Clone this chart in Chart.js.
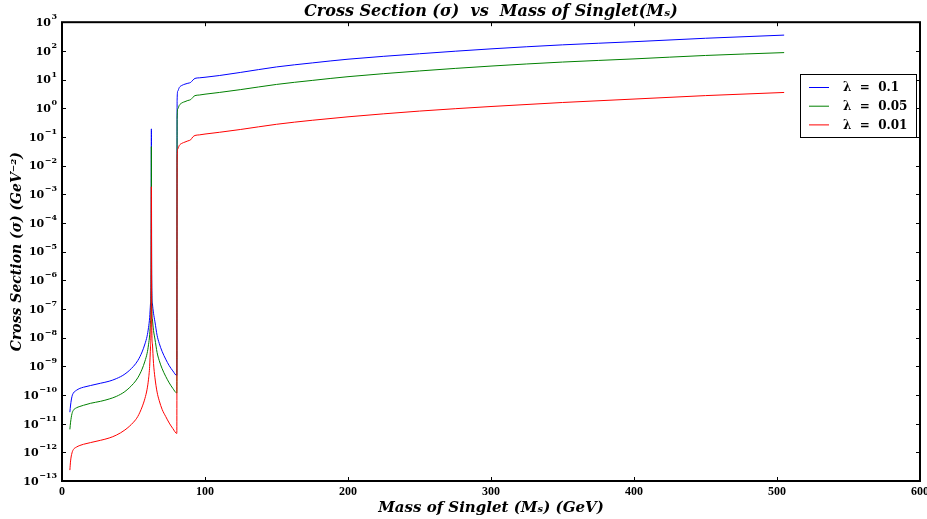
<!DOCTYPE html>
<html>
<head>
<meta charset="utf-8">
<script src="https://cdn.jsdelivr.net/npm/chart.js@4.4.1/dist/chart.umd.min.js"></script>
<style>
  html, body { margin: 0; padding: 0; background: #fff; }
</style>
</head>
<body>
<canvas id="chart" width="927" height="519"></canvas>
<script>
// singlet mass (GeV), shared by the three curves
const masses = [5.5, 6, 7, 8, 10, 12.5, 15, 20, 27, 33, 38, 44, 50, 53, 56, 58, 59.5, 60.5, 61.3, 61.9,
  62.3, 62.5, 62.7, 63.2, 64, 65, 66.5, 68, 70, 72.5, 75, 77.5, 80.3, 80.5, 81, 82, 84, 86, 88, 90,
  91.5, 93, 96, 100, 110, 125, 150, 175, 200, 250, 300, 350, 400, 450, 505];

// log10 of cross section (GeV^-2)
const logSigma01 = [-10.6, -10.35, -10.05, -9.93, -9.84, -9.77, -9.73, -9.67, -9.59, -9.52,
  -9.43, -9.27, -9.0, -8.8, -8.5, -8.22, -7.95, -7.65, -7.3, -6.8,
  -5.8, -0.72, -5.8, -6.8, -7.15, -7.45, -7.92, -8.2, -8.48, -8.75,
  -8.98, -9.16, -9.32, 0.28, 0.6, 0.72, 0.8, 0.84, 0.87, 0.9,
  0.98, 1.04, 1.06, 1.08, 1.14, 1.25, 1.44, 1.58, 1.71, 1.9,
  2.07, 2.21, 2.32, 2.44, 2.55];
const logSigma005 = [-11.2, -10.95, -10.65, -10.53, -10.45, -10.4, -10.36, -10.29, -10.22, -10.14,
  -10.05, -9.88, -9.6, -9.4, -9.1, -8.82, -8.55, -8.25, -7.9, -7.4,
  -6.4, -1.34, -6.4, -7.35, -7.75, -8.05, -8.52, -8.8, -9.08, -9.35,
  -9.58, -9.77, -9.93, -0.35, -0.02, 0.1, 0.19, 0.23, 0.27, 0.3,
  0.38, 0.44, 0.46, 0.49, 0.55, 0.65, 0.83, 0.97, 1.1, 1.3,
  1.47, 1.61, 1.72, 1.84, 1.94];
const logSigma001 = [-12.62, -12.3, -12.02, -11.9, -11.82, -11.76, -11.72, -11.66, -11.58, -11.5,
  -11.4, -11.22, -10.95, -10.75, -10.42, -10.12, -9.8, -9.45, -9.0, -8.3,
  -7.2, -2.74, -7.2, -8.2, -8.9, -9.4, -9.9, -10.2, -10.5, -10.75,
  -10.98, -11.17, -11.34, -1.8, -1.42, -1.3, -1.22, -1.18, -1.14, -1.1,
  -1.0, -0.95, -0.93, -0.9, -0.84, -0.74, -0.56, -0.42, -0.3, -0.1,
  0.06, 0.2, 0.32, 0.44, 0.55];

const seriesLabels = ['\u03bb  =  0.1', '\u03bb  =  0.05', '\u03bb  =  0.01'];
const xTickValues = [0, 100, 200, 300, 400, 500, 600];
const yTickExponents = [-13, -12, -11, -10, -9, -8, -7, -6, -5, -4, -3, -2, -1, 0, 1, 2, 3];

const SERIF = '"DejaVu Serif", "Liberation Serif", serif';
const SUP = { '-': '\u2212' };

function toPoints(logs) {
  return masses.map((m, i) => ({ x: m, y: Math.pow(10, logs[i]) }));
}

// inward ticks, frame, y labels with exponents, legend box
const decor = {
  id: 'decor',
  afterDraw(chart) {
    const { ctx, chartArea: a, scales: { x, y } } = chart;
    ctx.save();
    ctx.strokeStyle = '#000';
    ctx.lineWidth = 1;
    ctx.beginPath();
    xTickValues.forEach(v => {
      const px = Math.round(x.getPixelForValue(v)) + 0.5;
      ctx.moveTo(px, a.bottom); ctx.lineTo(px, a.bottom - 4);
      ctx.moveTo(px, a.top); ctx.lineTo(px, a.top + 4);
    });
    yTickExponents.forEach(e => {
      const py = Math.round(y.getPixelForValue(Math.pow(10, e))) + 0.5;
      ctx.moveTo(a.left, py); ctx.lineTo(a.left + 4, py);
      ctx.moveTo(a.right, py); ctx.lineTo(a.right - 4, py);
    });
    ctx.stroke();

    ctx.lineWidth = 2;
    ctx.strokeRect(a.left, a.top, a.right - a.left, a.bottom - a.top);

    // y tick labels: 10 with raised exponent
    ctx.fillStyle = '#000';
    ctx.textBaseline = 'middle';
    yTickExponents.forEach(e => {
      const py = y.getPixelForValue(Math.pow(10, e));
      const exp = String(e).split('').map(c => SUP[c] || c).join('');
      ctx.font = 'bold 8px ' + SERIF;
      const ew = ctx.measureText(exp).width;
      const right = a.left - 5;
      ctx.textAlign = 'right';
      ctx.fillText(exp, right, py - 5);
      ctx.font = 'bold 11px ' + SERIF;
      ctx.fillText('10', right - ew - 0.5, py + 1);
    });

    // legend
    const bx = 800, by = 74, bw = 116, bh = 63;
    ctx.fillStyle = '#fff';
    ctx.fillRect(bx, by, bw, bh);
    ctx.lineWidth = 1;
    ctx.strokeStyle = '#000';
    ctx.strokeRect(bx + 0.5, by + 0.5, bw, bh);
    ctx.textAlign = 'left';
    ctx.font = 'bold 12px ' + SERIF;
    chart.data.datasets.forEach((ds, i) => {
      const ly = by + 13 + i * 18.7;
      ctx.strokeStyle = ds.borderColor;
      ctx.beginPath();
      ctx.moveTo(809, ly + 0.5); ctx.lineTo(829, ly + 0.5);
      ctx.stroke();
      ctx.fillStyle = '#000';
      ctx.fillText(ds.label, 843, ly + 1);
    });
    ctx.restore();
  }
};

new Chart(document.getElementById('chart'), {
  type: 'line',
  data: {
    datasets: [
      { label: seriesLabels[0], data: toPoints(logSigma01), borderColor: '#0000ff', order: 2 },
      { label: seriesLabels[1], data: toPoints(logSigma005), borderColor: '#008000', order: 1 },
      { label: seriesLabels[2], data: toPoints(logSigma001), borderColor: '#ff0000', order: 0 }
    ]
  },
  options: {
    responsive: false,
    animation: false,
    layout: { padding: { left: 0, right: 7, top: 0, bottom: 0 } },
    elements: {
      line: { borderWidth: 1, tension: 0, cubicInterpolationMode: 'monotone', fill: false },
      point: { radius: 0 }
    },
    scales: {
      x: {
        type: 'linear',
        min: 0,
        max: 600,
        afterBuildTicks: s => { s.ticks = xTickValues.map(v => ({ value: v })); },
        afterFit: s => { s.height = 38; s.paddingLeft = 0; s.paddingRight = 0; },
        grid: { display: false, drawTicks: false },
        border: { display: false },
        ticks: { color: '#000', padding: 4, font: { family: '"Liberation Serif", serif', weight: 'bold', size: 12 } },
        title: {
          display: true,
          text: 'Mass of Singlet (M\u209b) (GeV)',
          color: '#000',
          padding: { top: 0, bottom: 2 },
          font: { family: SERIF, style: 'italic', weight: 'bold', size: 15 }
        }
      },
      y: {
        type: 'logarithmic',
        min: 1e-13,
        max: 1e3,
        afterBuildTicks: s => { s.ticks = yTickExponents.map(e => ({ value: Math.pow(10, e) })); },
        afterFit: s => { s.width = 62; s.paddingTop = 0; s.paddingBottom = 0; },
        grid: { display: false, drawTicks: false },
        border: { display: false },
        ticks: { display: false },
        title: {
          display: true,
          text: 'Cross Section (\u03c3) (GeV\u207b\u00b2)',
          color: '#000',
          padding: { top: 9, bottom: 0 },
          font: { family: SERIF, style: 'italic', weight: 'bold', size: 14 }
        }
      }
    },
    plugins: {
      legend: { display: false },
      tooltip: { enabled: false },
      title: {
        display: true,
        fullSize: false,
        text: 'Cross Section (\u03c3)  vs  Mass of Singlet(M\u209b)',
        color: '#000',
        padding: { top: 2, bottom: 1 },
        font: { family: SERIF, style: 'italic', weight: 'bold', size: 16 }
      }
    }
  },
  plugins: [decor]
});
</script>
</body>
</html>
